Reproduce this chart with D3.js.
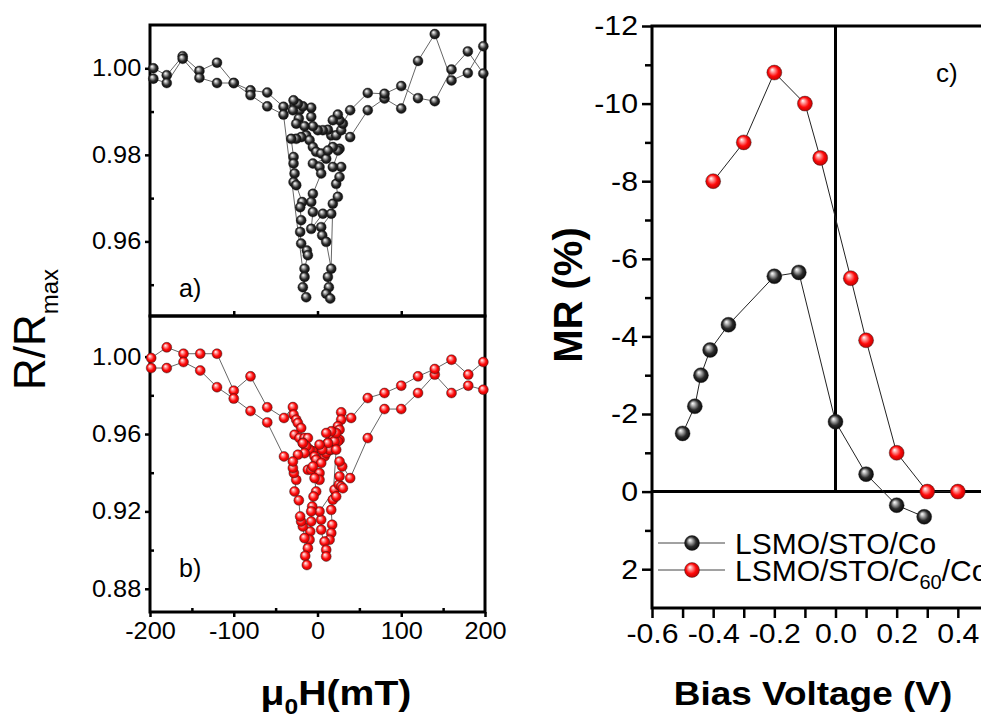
<!DOCTYPE html>
<html>
<head>
<meta charset="utf-8">
<script src="https://cdn.jsdelivr.net/npm/d3@7"></script>
<style>
  body { margin: 0; background: #fff; }
</style>
</head>
<body>
<script>
const FONT = "'Liberation Sans', Arial, sans-serif";

// panel a: R/Rmax vs field, two sweep branches, [mT, R/Rmax]
const aSweepUp = [
  [-196, 1.0000], [-180, 0.9984], [-161, 1.0028], [-141, 0.9994], [-120, 1.0013], [-100, 0.9966],
  [-80, 0.9949], [-60, 0.9944], [-40.6, 0.9911], [-27.4, 0.9915], [-21.5, 0.9903], [-13.5, 0.9845],
  [-9.5, 0.9834], [-5.5, 0.9818], [-1.6, 0.9807], [4.4, 0.9803], [10.4, 0.9791], [-5.5, 0.9780],
  [2.4, 0.9772], [4.4, 0.9757], [-5.5, 0.9710], [-7.5, 0.9691], [-5.5, 0.9668], [-7.5, 0.9629],
  [6.4, 0.9664], [16.4, 0.9664], [4.4, 0.9633], [5.6, 0.9614], [10.4, 0.9599], [16.4, 0.9537],
  [12.4, 0.9518], [13.6, 0.9494], [10.4, 0.9479], [15.2, 0.9468], [18.3, 0.9687], [24.3, 0.9703],
  [22.3, 0.9733], [26.3, 0.9749], [28.3, 0.9772], [18.3, 0.9772], [26.3, 0.9814], [24.3, 0.9810],
  [18.3, 0.9818], [12.4, 0.9810], [16.4, 0.9845], [22.3, 0.9845], [28.3, 0.9857], [39, 0.9841],
  [60, 0.9903], [80, 0.9930], [100, 0.9907], [120, 1.0017], [140, 1.0079], [160, 0.9972],
  [179.5, 0.9989], [198, 1.0051]
];
const aSweepDown = [
  [198, 0.9988], [179.5, 1.0039], [160, 0.9997], [140, 0.9924], [120, 0.9931], [100, 0.9959],
  [80, 0.9941], [60, 0.9943], [39, 0.9903], [30.3, 0.9872], [26.3, 0.9880], [24.3, 0.9893],
  [18.3, 0.9880], [12.4, 0.9858], [6.4, 0.9857], [0.4, 0.9857], [-5.5, 0.9866], [-7.5, 0.9888],
  [-7.5, 0.9909], [-17.5, 0.9912], [-23.4, 0.9918], [-28.6, 0.9926], [-29.4, 0.9903], [-22.3, 0.9884],
  [-25.4, 0.9872], [-15.5, 0.9866], [-19.5, 0.9841], [-25.4, 0.9837], [-31.4, 0.9837], [-28.6, 0.9795],
  [-28.6, 0.9780], [-27.4, 0.9757], [-28.6, 0.9737], [-25.4, 0.9730], [-18.3, 0.9691], [-20.7, 0.9679],
  [-19.5, 0.9649], [-20.7, 0.9622], [-19.5, 0.9595], [-12.7, 0.9579], [-11.5, 0.9568], [-15.5, 0.9537],
  [-15.5, 0.9518], [-17.5, 0.9494], [-13.5, 0.9471], [-40.6, 0.9893], [-60, 0.9912], [-80, 0.9938],
  [-100, 0.9966], [-120, 0.9966], [-141, 0.9978], [-161, 1.0022], [-180, 0.9966], [-196, 0.9976]
];

// panel b: same measurement with C60 layer
const bSweepUp = [
  [-198.6, 0.9993], [-180, 1.0048], [-160, 1.0015], [-140, 1.0015], [-120, 1.0015], [-100, 0.9824],
  [-80, 0.9898], [-60, 0.9738], [-40, 0.9683], [-29.4, 0.9739], [-28.6, 0.9700], [-25.4, 0.9674],
  [-23.4, 0.9657], [-19.5, 0.9631], [-27.4, 0.9596], [-21.5, 0.9579], [-15.5, 0.9579], [-11.5, 0.9579],
  [-17.5, 0.9553], [-13.5, 0.9536], [-9.5, 0.9519], [-5.5, 0.9510], [4.4, 0.9476], [8.4, 0.9484],
  [10.4, 0.9501], [12.4, 0.9553], [16.4, 0.9519], [18.3, 0.9588], [26.3, 0.9570], [24.3, 0.9562],
  [20.3, 0.9562], [14.4, 0.9519], [22.3, 0.9519], [18.3, 0.9260], [16.4, 0.9208], [17.5, 0.9131],
  [16.4, 0.9088], [14.4, 0.9053], [8.4, 0.9044], [10.4, 0.9001], [10.4, 0.8967], [4.4, 0.9105],
  [4.4, 0.9157], [2.4, 0.9200], [20.3, 0.9312], [22.3, 0.9277], [25.5, 0.9338], [28.3, 0.9329],
  [30.3, 0.9320], [26.3, 0.9381], [29.5, 0.9432], [26.3, 0.9458], [39, 0.9372], [60, 0.9579],
  [80, 0.9729], [100, 0.9729], [120, 0.9812], [140, 0.9907], [160, 0.9812], [180, 0.9850],
  [198, 0.9829]
];
const bSweepDown = [
  [198, 0.9972], [180, 0.9907], [160, 0.9984], [140, 0.9936], [120, 0.9898], [100, 0.9850],
  [80, 0.9812], [60, 0.9786], [40.2, 0.9683], [28.3, 0.9712], [28.3, 0.9674], [24.3, 0.9640],
  [26.3, 0.9622], [22.3, 0.9605], [16.4, 0.9614], [10.4, 0.9605], [12.4, 0.9553], [5.6, 0.9519],
  [2.4, 0.9545], [-5.5, 0.9510], [-9.5, 0.9519], [-13.5, 0.9536], [-17.5, 0.9553], [-15.5, 0.9501],
  [-23.4, 0.9493], [-3.5, 0.9484], [-1.6, 0.9467], [4.4, 0.9450], [-11.5, 0.9415], [-7.5, 0.9415],
  [-5.5, 0.9432], [2.4, 0.9398], [2.4, 0.9363], [-3.5, 0.9372], [-1.6, 0.9303], [-4.7, 0.9277],
  [-6.3, 0.9225], [-7.5, 0.9200], [-7.5, 0.9148], [-8.7, 0.9096], [-9.5, 0.9053], [-11.5, 0.9010],
  [-14.7, 0.8970], [-12.7, 0.8923], [-15.5, 0.9062], [-17.5, 0.9122], [-19.5, 0.9148], [-20.7, 0.9174],
  [-22.3, 0.9257], [-27.4, 0.9303], [-25.4, 0.9363], [-28.2, 0.9398], [-29.4, 0.9424], [-29.4, 0.9458],
  [-40, 0.9484], [-60, 0.9660], [-80, 0.9719], [-100, 0.9783], [-120, 0.9842], [-140, 0.9928],
  [-160, 0.9972], [-180, 0.9941], [-198.6, 0.9941]
];

// panel c: MR vs bias voltage
const biasCo = [-0.5, -0.46, -0.44, -0.41, -0.35, -0.2, -0.12, 0.0, 0.1, 0.2, 0.29];
const mrCo = [-1.5, -2.2, -3.0, -3.65, -4.3, -5.55, -5.65, -1.8, -0.45, 0.35, 0.65];
const biasC60 = [-0.4, -0.3, -0.2, -0.1, -0.05, 0.05, 0.1, 0.2, 0.3, 0.4];
const mrC60 = [-8.0, -9.0, -10.8, -10.0, -8.6, -5.5, -3.9, -1.0, 0, 0];

const fieldTicks = [-200, -100, 0, 100, 200];
const fieldMinor = [-150, -50, 50, 150];
const aTicks = [0.96, 0.98, 1.00];
const aMinor = [0.95, 0.97, 0.99];
const bTicks = [0.88, 0.92, 0.96, 1.00];
const bMinor = [0.90, 0.94, 0.98];
const biasTicks = [-0.6, -0.4, -0.2, 0.0, 0.2, 0.4];
const biasMinor = [-0.5, -0.3, -0.1, 0.1, 0.3, 0.5];
const mrTicks = [-12, -10, -8, -6, -4, -2, 0, 2];
const mrMinor = [-11, -9, -7, -5, -3, -1, 1];

const svg = d3.select("body").append("svg")
  .attr("width", 981).attr("height", 722)
  .style("background", "#fff");

// sphere-like markers
const defs = svg.append("defs");
function sphere(id, c0, c1, c2, c3) {
  const g = defs.append("radialGradient").attr("id", id)
    .attr("cx", "50%").attr("cy", "50%").attr("r", "55%")
    .attr("fx", "35%").attr("fy", "30%");
  g.append("stop").attr("offset", "0%").attr("stop-color", c0);
  g.append("stop").attr("offset", "18%").attr("stop-color", c1);
  g.append("stop").attr("offset", "60%").attr("stop-color", c2);
  g.append("stop").attr("offset", "100%").attr("stop-color", c3);
}
sphere("ballBlack", "#ffffff", "#c8c8c8", "#2c2c2c", "#000000");
sphere("ballRed", "#ffffff", "#ffb4b4", "#ff0a0a", "#b00000");

const x = d3.scaleLinear().domain([-200, 200]).range([150, 485]);
const yA = d3.scaleLinear().domain([0.943, 1.010]).range([315, 25]);
const yB = d3.scaleLinear().domain([0.868, 1.021]).range([612, 316]);
const xC = d3.scaleLinear().domain([-0.6, 0.6]).range([652, 1019]);
const yC = d3.scaleLinear().domain([-12, 3]).range([26, 608]);

function tidy(g, size, stretch) {
  g.select(".domain").remove();
  g.selectAll("line").attr("stroke", "#000").attr("stroke-width", 2.5);
  g.selectAll("text")
    .attr("font-size", size)
    .attr("font-family", FONT)
    .attr("fill", "#000")
    .attr("transform", "scale(" + stretch + ",1)");
}

// ----- panels a and b -----
svg.append("g").attr("transform", "translate(150,0)")
  .call(d3.axisLeft(yA).tickValues(aTicks).tickSize(5).tickPadding(3).tickFormat(d => d.toFixed(2)))
  .call(g => tidy(g, 23, 1.1));
svg.append("g").attr("transform", "translate(150,0)")
  .call(d3.axisLeft(yA).tickValues(aMinor).tickSize(-4).tickFormat(""))
  .call(g => tidy(g, 23, 1));
svg.append("g").attr("transform", "translate(150,0)")
  .call(d3.axisLeft(yB).tickValues(bTicks).tickSize(5).tickPadding(3).tickFormat(d => d.toFixed(2)))
  .call(g => tidy(g, 23, 1.1));
svg.append("g").attr("transform", "translate(150,0)")
  .call(d3.axisLeft(yB).tickValues(bMinor).tickSize(-4).tickFormat(""))
  .call(g => tidy(g, 23, 1));
svg.append("g").attr("transform", "translate(0,612)")
  .call(d3.axisBottom(x).tickValues(fieldTicks).tickSize(5).tickPadding(6).tickFormat(d => String(d)))
  .call(g => tidy(g, 23, 1.1));
svg.append("g").attr("transform", "translate(0,612)")
  .call(d3.axisBottom(x).tickValues(fieldMinor).tickSize(-4).tickFormat(""))
  .call(g => tidy(g, 23, 1));
svg.append("g").attr("transform", "translate(0,316)")
  .call(d3.axisTop(x).tickValues([-100, 0, 100]).tickSize(5).tickFormat(""))
  .call(g => tidy(g, 23, 1));

svg.append("rect").attr("x", 150).attr("y", 25).attr("width", 335).attr("height", 291)
  .attr("fill", "none").attr("stroke", "#000").attr("stroke-width", 3);
svg.append("rect").attr("x", 150).attr("y", 316).attr("width", 335).attr("height", 296)
  .attr("fill", "none").attr("stroke", "#000").attr("stroke-width", 3);

function loops(series, yScale, fill) {
  const line = d3.line().x(d => x(d[0])).y(d => yScale(d[1]));
  series.forEach(s => {
    svg.append("path").attr("d", line(s))
      .attr("fill", "none").attr("stroke", "#555").attr("stroke-width", 0.9);
  });
  series.forEach(s => {
    svg.append("g").selectAll("circle").data(s).join("circle")
      .attr("cx", d => x(d[0])).attr("cy", d => yScale(d[1])).attr("r", 5)
      .attr("fill", fill).attr("stroke", "#222").attr("stroke-width", 0.4);
  });
}
loops([aSweepUp, aSweepDown], yA, "url(#ballBlack)");
loops([bSweepUp, bSweepDown], yB, "url(#ballRed)");

svg.append("text").attr("x", 179).attr("y", 297).text("a)")
  .attr("font-family", FONT).attr("font-size", 25);
svg.append("text").attr("x", 179).attr("y", 577).text("b)")
  .attr("font-family", FONT).attr("font-size", 25);

// y title R/Rmax
const ry = svg.append("text").attr("transform", "translate(45,390) rotate(-90)")
  .attr("font-family", FONT).attr("font-size", 44);
ry.append("tspan").text("R/R");
ry.append("tspan").attr("font-size", 24).attr("dy", 13).text("max");

// x title mu0H(mT)
const hx = svg.append("text").attr("transform", "translate(336,705) scale(1.12,1)")
  .attr("text-anchor", "middle").attr("font-family", FONT)
  .attr("font-weight", "bold").attr("font-size", 35);
hx.append("tspan").text("\u03bc");
hx.append("tspan").attr("font-size", 22).attr("dy", 9).text("0");
hx.append("tspan").attr("dy", -9).text("H(mT)");

// ----- panel c -----
svg.append("g").attr("transform", "translate(652,0)")
  .call(d3.axisLeft(yC).tickValues(mrTicks).tickSize(10).tickPadding(3).tickFormat(d => String(d)))
  .call(g => tidy(g, 28, 1.08));
svg.append("g").attr("transform", "translate(652,0)")
  .call(d3.axisLeft(yC).tickValues(mrMinor).tickSize(7).tickFormat(""))
  .call(g => tidy(g, 28, 1));
svg.append("g").attr("transform", "translate(0,608)")
  .call(d3.axisBottom(xC).tickValues(biasTicks).tickSize(10).tickPadding(5).tickFormat(d => d.toFixed(1)))
  .call(g => tidy(g, 28, 1.08));
svg.append("g").attr("transform", "translate(0,608)")
  .call(d3.axisBottom(xC).tickValues(biasMinor).tickSize(10).tickFormat(""))
  .call(g => tidy(g, 28, 1));

svg.append("rect").attr("x", xC(-0.6)).attr("y", yC(-12))
  .attr("width", xC(0.6) - xC(-0.6)).attr("height", yC(3) - yC(-12))
  .attr("fill", "none").attr("stroke", "#000").attr("stroke-width", 3);
svg.append("line").attr("x1", xC(0)).attr("x2", xC(0)).attr("y1", yC(-12)).attr("y2", yC(0))
  .attr("stroke", "#000").attr("stroke-width", 3);
svg.append("line").attr("x1", xC(-0.6)).attr("x2", xC(0.6)).attr("y1", yC(0)).attr("y2", yC(0))
  .attr("stroke", "#000").attr("stroke-width", 3);

const biasSeries = [
  { v: biasCo, mr: mrCo, fill: "url(#ballBlack)" },
  { v: biasC60, mr: mrC60, fill: "url(#ballRed)" }
];
const lineC = d3.line().x(d => xC(d[0])).y(d => yC(d[1]));
biasSeries.forEach(s => {
  const pts = s.v.map((v, i) => [v, s.mr[i]]);
  svg.append("path").attr("d", lineC(pts))
    .attr("fill", "none").attr("stroke", "#222").attr("stroke-width", 1);
  svg.append("g").selectAll("circle").data(pts).join("circle")
    .attr("cx", d => xC(d[0])).attr("cy", d => yC(d[1])).attr("r", 7.5)
    .attr("fill", s.fill).attr("stroke", "#222").attr("stroke-width", 0.4);
});

// legend
const legendY = [543, 570];
biasSeries.forEach((s, i) => {
  svg.append("line").attr("x1", 658).attr("x2", 725).attr("y1", legendY[i]).attr("y2", legendY[i])
    .attr("stroke", "#444").attr("stroke-width", 1);
  svg.append("circle").attr("cx", 692).attr("cy", legendY[i]).attr("r", 7.5)
    .attr("fill", s.fill).attr("stroke", "#222").attr("stroke-width", 0.4);
});
svg.append("text").attr("x", 735).attr("y", legendY[0] + 11)
  .attr("font-family", FONT).attr("font-size", 30).text("LSMO/STO/Co");
const leg2 = svg.append("text").attr("x", 735).attr("y", legendY[1] + 11)
  .attr("font-family", FONT).attr("font-size", 30);
leg2.append("tspan").text("LSMO/STO/C");
leg2.append("tspan").attr("font-size", 20).attr("dy", 8).text("60");
leg2.append("tspan").attr("dy", -8).text("/Co");

svg.append("text").attr("x", 936).attr("y", 82).text("c)")
  .attr("font-family", FONT).attr("font-size", 26);

svg.append("text").attr("transform", "translate(582,295) rotate(-90)")
  .attr("text-anchor", "middle").attr("font-family", FONT)
  .attr("font-weight", "bold").attr("font-size", 40).text("MR (%)");

svg.append("text").attr("transform", "translate(813,705) scale(1.12,1)")
  .attr("text-anchor", "middle").attr("font-family", FONT)
  .attr("font-weight", "bold").attr("font-size", 33).text("Bias Voltage (V)");
</script>
</body>
</html>
